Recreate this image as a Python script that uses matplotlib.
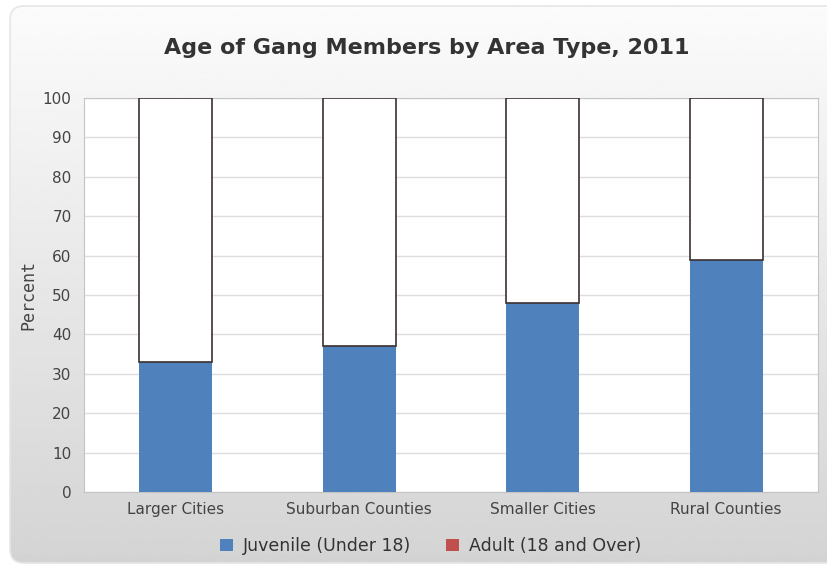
import numpy as np
import matplotlib.pyplot as plt
from matplotlib.patches import FancyBboxPatch, Patch

categories = ["Larger Cities", "Suburban Counties", "Smaller Cities", "Rural Counties"]
juvenile = [33, 37, 48, 59]
adult = [67, 63, 52, 41]
yticks = list(range(0, 101, 10))

fig = plt.figure(figsize=(8.28, 5.67), dpi=100)
fig.patch.set_facecolor("white")

# background panel with vertical gradient and rounded corners
bg = fig.add_axes([0, 0, 1, 1], zorder=-10)
bg.set_xlim(0, 828)
bg.set_ylim(0, 567)
bg.axis("off")
grad = np.linspace(0.83, 0.985, 256).reshape(-1, 1)
im = bg.imshow(grad, cmap="gray", vmin=0, vmax=1, extent=[10, 850, 4, 561],
               origin="lower", aspect="auto", interpolation="bilinear")
box = FancyBboxPatch((10, 4), 840, 557, boxstyle="round,pad=0,rounding_size=14",
                     facecolor="none", edgecolor="#e6e6e6", lw=1.2)
bg.add_patch(box)
im.set_clip_path(box)

ax = fig.add_axes([84 / 828, 75 / 567, 734 / 828, 394 / 567])
x = np.arange(len(categories))
ax.bar(x, juvenile, width=0.4, color="#4f81bd", zorder=3)
ax.bar(x, adult, width=0.4, bottom=juvenile, color="white",
       edgecolor="#3b3030", linewidth=1.2, zorder=3)

ax.set_xlim(-0.5, 3.5)
ax.set_ylim(0, 100)
ax.set_yticks(yticks)
ax.set_xticks(x)
ax.set_xticklabels(categories, fontsize=11, color="#444444")
ax.tick_params(axis="y", labelsize=11, colors="#444444", length=0, pad=9)
ax.tick_params(axis="x", length=0, pad=7)
ax.grid(axis="y", color="#dddddd", lw=1, zorder=0)
for s in ax.spines.values():
    s.set_color("#c4c4c4")
ax.set_facecolor("white")
ax.set_ylabel("Percent", fontsize=12, color="#444444", fontfamily="DejaVu Sans Mono", labelpad=4)

fig.text(0.515, 0.915, "Age of Gang Members by Area Type, 2011", ha="center", va="center",
         fontsize=16, fontweight="bold", color="#333333")

handles = [Patch(facecolor="#4f81bd", label="Juvenile (Under 18)"),
           Patch(facecolor="#c0504d", label="Adult (18 and Over)")]
fig.legend(handles=handles, loc="center", bbox_to_anchor=(0.52, 0.037), ncol=2, frameon=False,
           fontsize=12.5, handlelength=0.75, handleheight=0.75, handletextpad=0.6, columnspacing=2.0,
           labelcolor="#333333")

fig.savefig("out.png", dpi=100)
